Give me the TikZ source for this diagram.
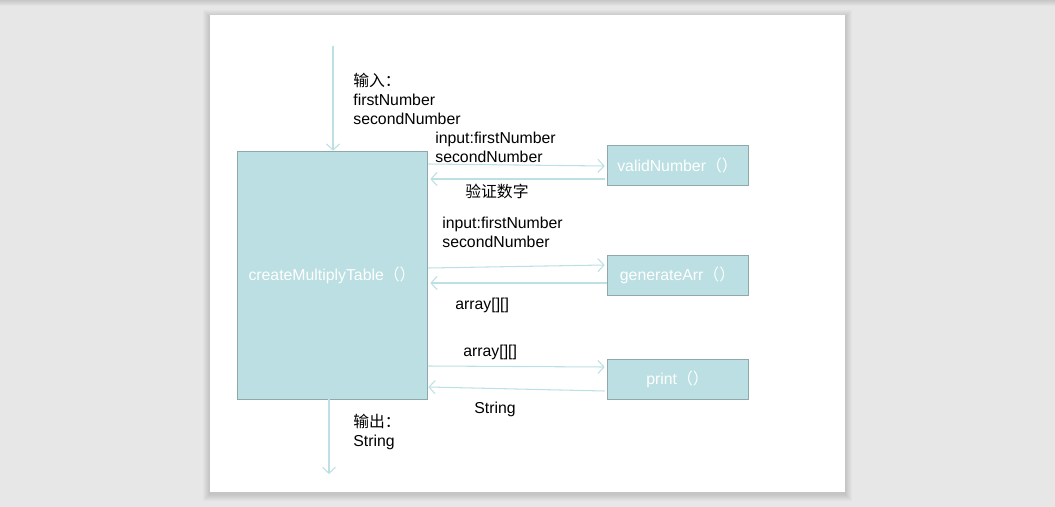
\documentclass[tikz,border=0pt]{standalone}
\usepackage{fontspec}
\setmainfont{Liberation Sans}
\newfontfamily\cjk{Noto Sans CJK SC}
\usetikzlibrary{arrows.meta,calc}
\definecolor{boxfill}{HTML}{BBDFE2}
\definecolor{boxline}{HTML}{8FA8AA}
\definecolor{flowline}{HTML}{BDE0E4}
\definecolor{pagebg}{HTML}{E7E7E7}

\begin{document}
\begin{tikzpicture}[x=0.02cm,y=-0.02cm,
    func/.style={draw=boxline,fill=boxfill,text=white,inner sep=0pt,font=\fontsize{9}{10.8}\selectfont},
    flow/.style={draw=flowline,line width=0.6pt,-{Straight Barb[length=1.2mm,width=2.6mm]}},
    note/.style={anchor=west,inner sep=0pt,align=left,font=\fontsize{9}{10.8}\selectfont}]
    % page
    \fill[pagebg] (0,0) rectangle (1055,507);
    \shade[top color=black!22,bottom color=pagebg] (0,0) rectangle (1055,6);
    \foreach \s in {1,...,7}{
        \fill[black,opacity=0.02] ({210-\s},{15-\s+2}) rectangle ({845+\s},{492+\s+2});
    }
    \fill[white] (210,15) rectangle (845,492);
    \useasboundingbox (0,0) rectangle (1055,507);
    % functions
    \node[func,minimum width=3.8cm,minimum height=4.96cm] (main) at (332,275) {createMultiplyTable{\cjk （）}};
    \node[func,minimum width=2.82cm,minimum height=0.8cm] (valid) at (677.5,165) {validNumber{\cjk （）}};
    \node[func,minimum width=2.82cm,minimum height=0.8cm] (gen) at (677.5,275) {generateArr{\cjk （）}};
    \node[func,minimum width=2.82cm,minimum height=0.8cm] (prt) at (677.5,379) {print{\cjk （）}};
    % input / output
    \coordinate (in) at (333,46);
    \coordinate (out) at (329,474);
    \draw[flow] (in) -- (in |- main.north);
    \draw[flow] (main.south -| out) -- (out);
    % calls
    \draw[flow] ($(main.east |- valid.west)+(1,-1)$) -- ($(valid.west)+(-2,1)$);
    \draw[flow] ($(valid.west)+(-2,14)$) -- ($(main.east |- valid.west)+(3,14)$);
    \draw[flow] ($(main.east |- gen.west)+(1,-7)$) -- ($(gen.west)+(-2,-10)$);
    \draw[flow] ($(gen.west)+(0,8)$) -- ($(main.east |- gen.west)+(3,8)$);
    \draw[flow] ($(main.east |- prt.west)+(1,-13)$) -- ($(prt.west)+(-2,-12)$);
    \draw[flow] ($(prt.west)+(-2,12)$) -- ($(main.east |- prt.west)+(1,8)$);
    % labels
    \node[note] (lin) at (353,98.5) {{\cjk 输入：}\\firstNumber\\secondNumber};
    \node[note] (lv1) at (435,147.5) {input:firstNumber\\secondNumber};
    \node[note] (lv2) at (465,191) {\cjk 验证数字};
    \node[note] (lg1) at (442,232.5) {input:firstNumber\\secondNumber};
    \node[note] (lg2) at (455,305) {array[][]};
    \node[note] (lp1) at (463,352) {array[][]};
    \node[note] (lp2) at (474,409) {String};
    \node[note] (lout) at (353,432) {{\cjk 输出：}\\String};
\end{tikzpicture}
\end{document}
